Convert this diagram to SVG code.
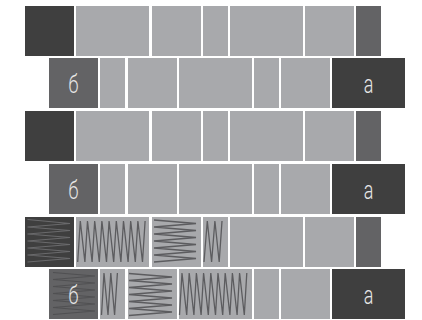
<svg xmlns="http://www.w3.org/2000/svg" width="422" height="320" viewBox="0 0 422 320">
<style>
.d{fill:#3f3f3f}
.g{fill:#a8a9ac}
.m{fill:#636365}
.zg{fill:none;stroke:#5c5c5f;stroke-width:1.3;stroke-linejoin:miter}
.zd{fill:none;stroke:#6a6a6c;stroke-width:1.2}
.zm{fill:none;stroke:#505052;stroke-width:1.2}
.t{font-family:Roboto,"Liberation Sans",sans-serif;font-weight:300;font-size:25px;fill:#e6e6e6;text-anchor:middle}
</style>
<rect width="422" height="320" fill="#ffffff"/>
<defs>
<g id="rowA">
<rect class="d" x="25" y="0" width="49" height="50"/>
<rect class="g" x="76" y="0" width="73" height="50"/>
<rect class="g" x="152" y="0" width="49" height="50"/>
<rect class="g" x="203" y="0" width="25" height="50"/>
<rect class="g" x="230" y="0" width="73" height="50"/>
<rect class="g" x="305" y="0" width="49" height="50"/>
<rect class="m" x="356" y="0" width="25" height="50"/>
</g>
<g id="rowB">
<rect class="m" x="49" y="0" width="49" height="50"/>
<rect class="g" x="100" y="0" width="25" height="50"/>
<rect class="g" x="128" y="0" width="49" height="50"/>
<rect class="g" x="179" y="0" width="73" height="50"/>
<rect class="g" x="254" y="0" width="25" height="50"/>
<rect class="g" x="281" y="0" width="49" height="50"/>
<rect class="d" x="332" y="0" width="73" height="50"/>
</g>
</defs>
<g id="row1"><use href="#rowA" y="6"/></g>
<g id="row2"><use href="#rowB" y="58"/>
<text class="t" transform="translate(73.5,92.8) scale(0.72,1)">б</text>
<text class="t" transform="translate(368.5,92.8) scale(0.72,1)">а</text>
</g>
<g id="row3"><use href="#rowA" y="111"/></g>
<g id="row4"><use href="#rowB" y="164"/>
<text class="t" transform="translate(73.5,198.8) scale(0.72,1)">б</text>
<text class="t" transform="translate(368.5,198.8) scale(0.72,1)">а</text>
</g>
<g id="row5"><use href="#rowA" y="217"/>
<polyline class="zd" points="27.5,219.5 70,223.5 27.5,227 70,230.5 27.5,234 70,237.5 27.5,241 70,244.5 27.5,248 70,251.5 27.5,255 70,258.5 27.5,262"/>
<polyline class="zg" points="77.7,262 80.3,221 84.9,262 87.5,221 92.1,262 94.7,221 99.3,262 101.9,221 106.5,262 109.1,221 113.7,262 116.3,221 120.9,262 123.5,221 128.1,262 130.7,221 135.3,262 137.9,221 142.5,262 145.1,221"/>
<polyline class="zg" points="154,220 196,223.5 154,227 196,230.5 154,234 196,237.5 154,241 196,244.5 154,248 196,251.5 154,255 196,258.5 154,262"/>
<polyline class="zg" points="204,262 207.3,221 211.6,262 214.9,221 219.2,262 222,221"/>
</g>
<g id="row6"><use href="#rowB" y="269"/>
<polyline class="zm" points="53,272.5 95,276 53,279.5 95,283 53,286.5 95,290 53,293.5 95,297 53,300.5 95,304 53,307.5 95,311 53,314.5"/>
<polyline class="zg" points="101.5,315 104,273 108,315 110.8,273 114.6,315 117.4,273"/>
<polyline class="zg" points="129,273.5 172,277 129,280.5 172,284 129,287.5 172,291 129,294.5 172,298 129,301.5 172,305 129,308.5 172,312 129,315.5"/>
<polyline class="zg" points="179.5,315 182,273 186.7,315 189.2,273 193.9,315 196.4,273 201.1,315 203.6,273 208.3,315 210.8,273 215.5,315 218,273 222.7,315 225.2,273 229.9,315 232.4,273 237.1,315 239.6,273 244.3,315 246.8,273"/>
<text class="t" transform="translate(73.5,303.8) scale(0.72,1)">б</text>
<text class="t" transform="translate(368.5,303.8) scale(0.72,1)">а</text>
</g>
</svg>
